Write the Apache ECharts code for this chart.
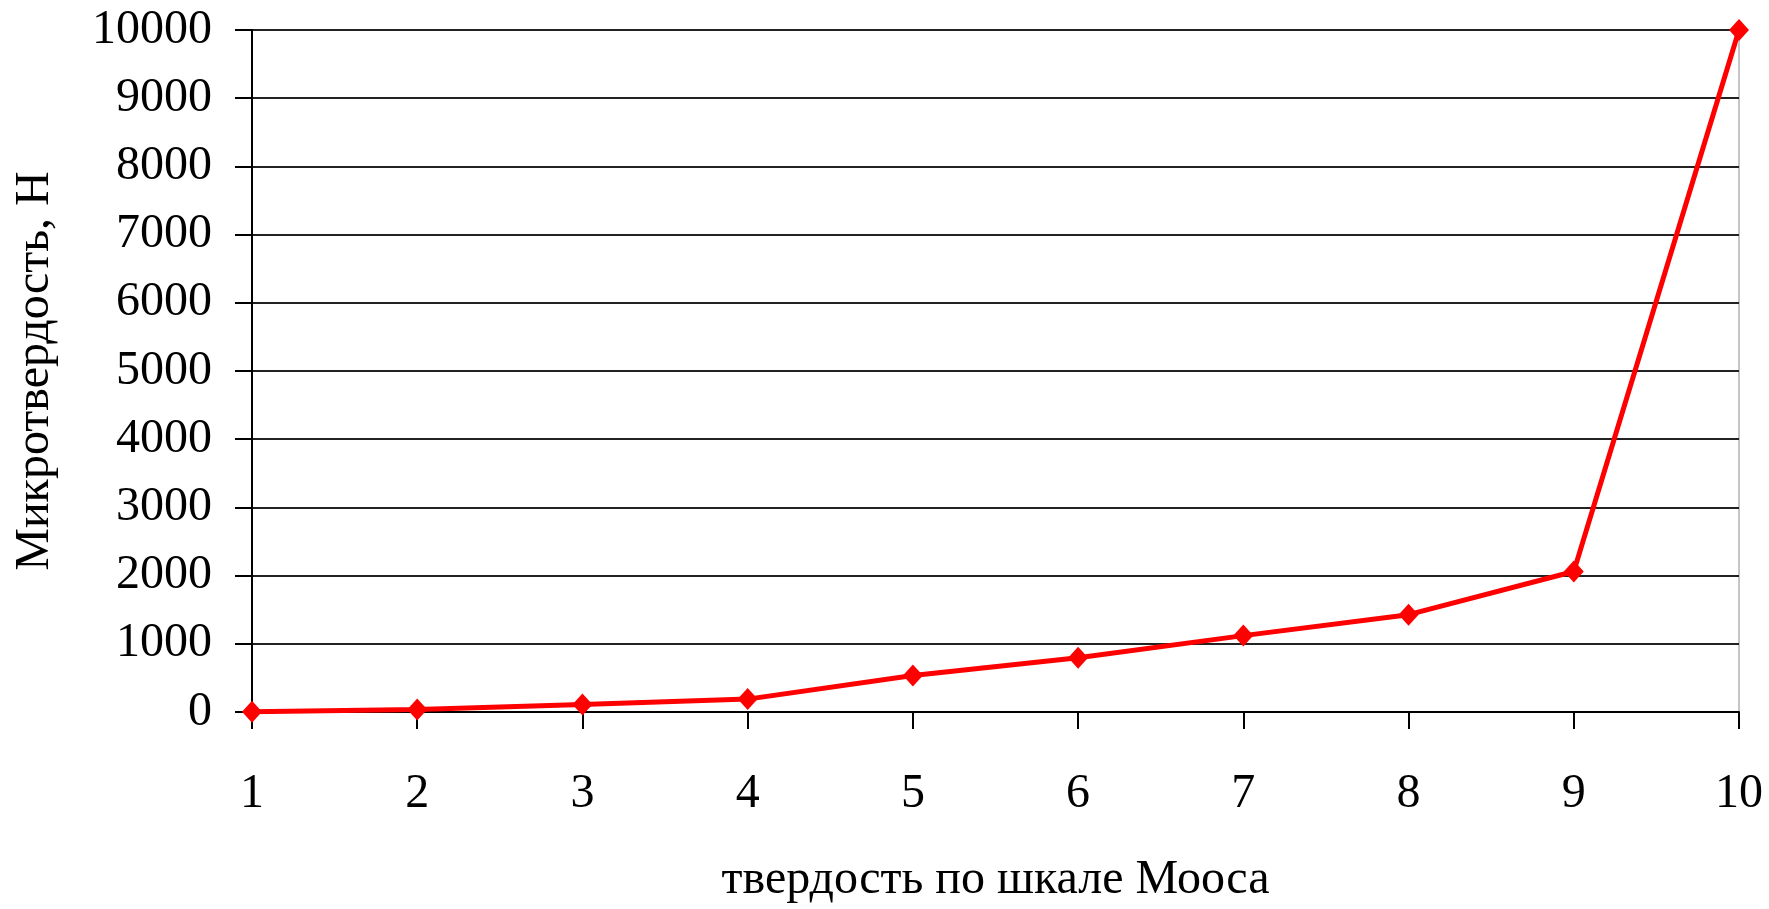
<!DOCTYPE html>
<html>
<head>
<meta charset="utf-8">
<script src="https://cdn.jsdelivr.net/npm/echarts@6/dist/echarts.min.js"></script>
<style>
  html, body { margin: 0; padding: 0; background: #fff; }
  #chart { width: 1769px; height: 909px; }
</style>
</head>
<body>
<div id="chart"></div>
<script>
  // шкала Мооса и микротвердость
  var mohs = [1, 2, 3, 4, 5, 6, 7, 8, 9, 10];
  var microHardness = [2.4, 36, 109, 189, 536, 795, 1120, 1427, 2060, 10000];
  var yTicks = { min: 0, max: 10000, step: 1000 };

  var font = '"Liberation Serif", "Times New Roman", serif';

  var points = [];
  for (var i = 0; i < mohs.length; i++) {
    points.push([mohs[i], microHardness[i]]);
  }

  var myChart = echarts.init(document.getElementById('chart'));

  myChart.setOption({
    animation: false,
    backgroundColor: '#ffffff',
    grid: {
      left: 252,
      right: 30,
      top: 30,
      bottom: 191,
      show: true,
      borderColor: '#8c8c8c',
      borderWidth: 1
    },
    xAxis: {
      type: 'value',
      min: 1,
      max: 10,
      interval: 1,
      name: 'твердость по шкале Мооса',
      nameLocation: 'middle',
      nameGap: 144,
      nameTextStyle: { fontFamily: font, fontSize: 48, color: '#000' },
      axisLine: { show: true, lineStyle: { color: '#000', width: 2 } },
      axisTick: { show: true, length: 17, lineStyle: { color: '#000', width: 2 } },
      axisLabel: { margin: 58, fontFamily: font, fontSize: 48, color: '#000' },
      splitLine: { show: false }
    },
    yAxis: {
      type: 'value',
      min: yTicks.min,
      max: yTicks.max,
      interval: yTicks.step,
      name: 'Микротвердость, Н',
      nameLocation: 'middle',
      nameGap: 193,
      nameTextStyle: { fontFamily: font, fontSize: 48, color: '#000' },
      axisLine: { show: true, lineStyle: { color: '#000', width: 2 } },
      axisTick: { show: true, inside: false, length: 17, lineStyle: { color: '#000', width: 2 } },
      axisLabel: {
        margin: 40, fontFamily: font, fontSize: 48, color: '#000',
        formatter: function (v) { return String(v); }
      },
      splitLine: { show: true, lineStyle: { color: '#222', width: 2 } }
    },
    series: [{
      type: 'line',
      data: points,
      symbol: 'diamond',
      symbolSize: [20, 22],
      lineStyle: { color: '#ff0000', width: 5 },
      itemStyle: { color: '#ff0000' }
    }]
  });
</script>
</body>
</html>
